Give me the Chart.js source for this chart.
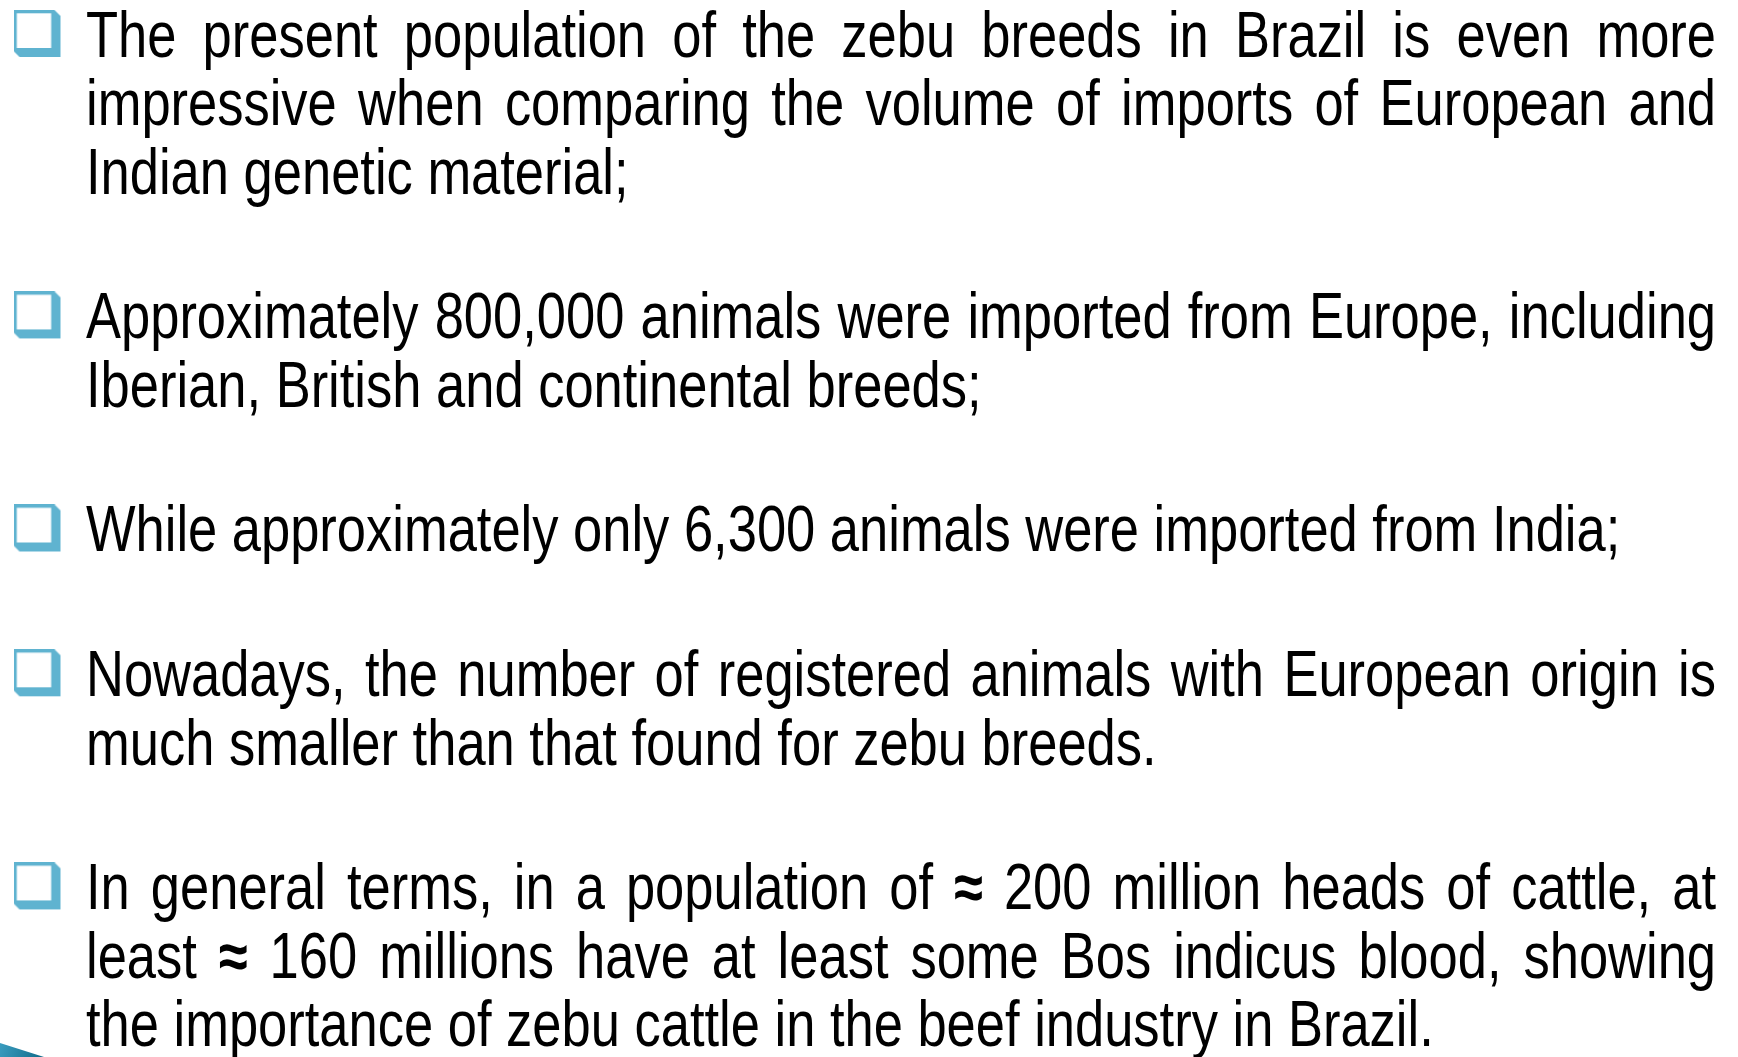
<!DOCTYPE html>
<html>
<head>
<meta charset="utf-8">
<script src="https://cdn.jsdelivr.net/npm/chart.js@4.4.1/dist/chart.umd.min.js"></script>
<style>
  html, body { margin: 0; padding: 0; background: #ffffff; overflow: hidden; }
  canvas { display: block; }
</style>
</head>
<body>
<canvas id="slide" width="1738" height="1057"></canvas>
<script>
// texto de la diapositiva, una lista por viñeta (cortes de línea como en el original)
const parrafo1 = [
    'The present population of the zebu breeds in Brazil is even more',
    'impressive when comparing the volume of imports of European and',
    'Indian genetic material;'
];
const parrafo2 = [
    'Approximately 800,000 animals were imported from Europe, including',
    'Iberian, British and continental breeds;'
];
const parrafo3 = [
    'While approximately only 6,300 animals were imported from India;'
];
const parrafo4 = [
    'Nowadays, the number of registered animals with European origin is',
    'much smaller than that found for zebu breeds.'
];
const parrafo5 = [
    'In general terms, in a population of \u2248 200 million heads of cattle, at',
    'least \u2248 160 millions have at least some Bos indicus blood, showing',
    'the importance of zebu cattle in the beef industry in Brazil.'
];
const parrafos = [parrafo1, parrafo2, parrafo3, parrafo4, parrafo5];

// layout (px)
const ANCHO = 1738, ALTO = 1057;
const PRIMERA_BASE = 57;     // línea base de la primera línea
const ALTO_LINEA = 68.3;
const SALTO_PARRAFO = 2.12;  // en líneas, de la última línea a la primera del siguiente
const X_VINETA = 37.5;
const X_TEXTO = 86, X_DERECHA = 1716;

// cada línea recibe una posición en "unidades de línea"
const lineas = [];
const vinetas = [];
let u = 0;
parrafos.forEach((p, i) => {
    if (i > 0) u += SALTO_PARRAFO - 1;
    vinetas.push({ x: X_VINETA, y: u });
    p.forEach((texto, j) => {
        lineas.push({ texto, u, ultima: j === p.length - 1 });
        u += 1;
    });
});

const yMin = -PRIMERA_BASE / ALTO_LINEA;
const yMax = yMin + ALTO / ALTO_LINEA;

// fuente: Liberation Sans Narrow si está, si no Liberation Sans comprimida
function hayFuente(nombre) {
    const c = document.createElement('canvas').getContext('2d');
    c.font = '64px monospace';
    const a = c.measureText('abcdefghijWMil').width;
    c.font = `64px "${nombre}", monospace`;
    return c.measureText('abcdefghijWMil').width !== a;
}
const conNarrow = hayFuente('Liberation Sans Narrow');
const FAMILIA = conNarrow ? '"Liberation Sans Narrow"' : '"Liberation Sans", Arial, sans-serif';
const FUENTE = '64px ' + FAMILIA;
const FUENTE_SIMBOLO = 'bold 64px ' + FAMILIA;
const ESCALA_X = conNarrow ? 1 : 0.82;

// viñeta estilo Wingdings (cuadro con sombra)
function crearVineta() {
    const s = 47;
    const c = document.createElement('canvas');
    c.width = 48; c.height = 94;
    const g = c.getContext('2d');
    g.fillStyle = '#5fb3d0';
    g.beginPath();
    g.moveTo(0, 0);
    g.lineTo(s - 6, 0);
    g.lineTo(s, 6);
    g.lineTo(s, s);
    g.lineTo(6, s);
    g.lineTo(0, s - 6);
    g.closePath();
    g.fill();
    g.fillStyle = '#ffffff';
    g.fillRect(3.3, 3.3, 34.4, 34.7);
    return c;
}

// PLUGIN: texto justificado
const pluginTexto = {
    id: 'textoJustificado',
    afterDatasetsDraw: (chart) => {
        const { ctx, scales: { x, y } } = chart;
        const izq = x.getPixelForValue(X_TEXTO);
        const der = x.getPixelForValue(X_DERECHA);
        ctx.save();
        ctx.fillStyle = '#000000';
        ctx.textBaseline = 'alphabetic';
        ctx.textAlign = 'left';
        const fuenteDe = p => (p === '\u2248' ? FUENTE_SIMBOLO : FUENTE);
        lineas.forEach(l => {
            const yPos = y.getPixelForValue(l.u);
            const palabras = l.texto.split(' ');
            const anchos = palabras.map(p => {
                ctx.font = fuenteDe(p);
                return ctx.measureText(p).width * ESCALA_X;
            });
            ctx.font = FUENTE;
            const suma = anchos.reduce((a, b) => a + b, 0);
            const espacio = ctx.measureText(' ').width * ESCALA_X;
            const hueco = (!l.ultima && palabras.length > 1)
                ? (der - izq - suma) / (palabras.length - 1)
                : espacio;
            let xPos = izq;
            palabras.forEach((p, k) => {
                ctx.save();
                ctx.font = fuenteDe(p);
                ctx.translate(xPos, yPos);
                ctx.scale(ESCALA_X, 1);
                ctx.fillText(p, 0, 0);
                ctx.restore();
                xPos += anchos[k] + hueco;
            });
        });
        ctx.restore();
    }
};

// PLUGIN: cuña decorativa abajo a la izquierda
const pluginDecoracion = {
    id: 'decoracion',
    beforeDraw: (chart) => {
        const { ctx } = chart;
        ctx.save();
        const grad = ctx.createLinearGradient(0, ALTO - 14, 45, ALTO);
        grad.addColorStop(0, '#3a9cbf');
        grad.addColorStop(1, '#106a88');
        ctx.fillStyle = grad;
        ctx.beginPath();
        ctx.moveTo(0, ALTO - 14);
        ctx.lineTo(44, ALTO);
        ctx.lineTo(0, ALTO);
        ctx.closePath();
        ctx.fill();
        ctx.restore();
    }
};

const imagenVineta = crearVineta();

new Chart(document.getElementById('slide').getContext('2d'), {
    type: 'scatter',
    data: {
        datasets: [{
            data: vinetas,
            pointStyle: imagenVineta,
            pointRadius: 24,
            pointHoverRadius: 24
        }]
    },
    plugins: [pluginDecoracion, pluginTexto],
    options: {
        responsive: false,
        animation: false,
        events: [],
        layout: { padding: 0, autoPadding: false },
        plugins: { legend: { display: false }, tooltip: { enabled: false } },
        scales: {
            x: { type: 'linear', display: false, min: 0, max: ANCHO },
            y: { type: 'linear', display: false, reverse: true, min: yMin, max: yMax }
        }
    }
});
</script>
</body>
</html>
